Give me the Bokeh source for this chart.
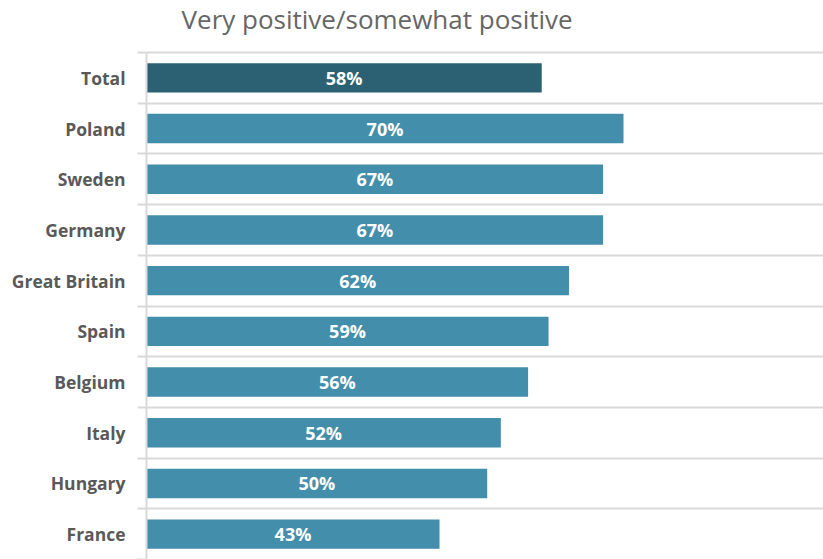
from bokeh.plotting import figure
from bokeh.models import Range1d, FixedTicker, ColumnDataSource, LabelSet, Label
from bokeh.core.properties import value
from bokeh.embed import file_html
from bokeh.resources import INLINE

categories = ["Total", "Poland", "Sweden", "Germany", "Great Britain",
              "Spain", "Belgium", "Italy", "Hungary", "France"]
values = [58, 70, 67, 67, 62, 59, 56, 52, 50, 43]
colors = ["#2B6172"] + ["#428EAB"] * 9
title_text = "Very positive/somewhat positive"

n = len(categories)
pos = [i + 0.5 for i in range(n)]
src = ColumnDataSource(dict(
    y=pos, v=values, half=[v / 2 for v in values],
    lab=[f"{v}%" for v in values], c=colors,
))

# frame spans the full height; the top strip (above category 0) holds the title
p = figure(width=823, height=559, output_backend="svg", toolbar_location=None,
           x_range=Range1d(0, 99.35), y_range=Range1d(n, -1.026),
           min_border_left=146, min_border_right=0, min_border_top=0,
           min_border_bottom=0)

p.hbar(y="y", right="v", left=0, height=0.58, fill_color="c",
       line_color=None, source=src)

labels = LabelSet(x="half", y="y", text="lab", source=src,
                  text_align="center", text_baseline="middle",
                  text_color="white", text_font=value("Open Sans"),
                  text_font_style="bold", text_font_size="18px")
p.add_layout(labels)

title = Label(x=5.14, y=-0.67, text=title_text, text_align="left",
              text_baseline="middle", text_font="Open Sans",
              text_font_size="26px", text_color="#666666")
p.add_layout(title)

p.xaxis.visible = False
p.xgrid.visible = False

ax = p.yaxis[0]
ax.bounds = (0, n)
ax.ticker = FixedTicker(ticks=pos, minor_ticks=list(range(n + 1)))
ax.major_label_overrides = {pv: c for pv, c in zip(pos, categories)}
ax.major_tick_line_color = None
ax.major_tick_out = 0
ax.major_tick_in = 0
ax.minor_tick_out = 9
ax.minor_tick_in = 0
ax.minor_tick_line_color = "#D9D9D9"
ax.minor_tick_line_width = 2
ax.axis_line_color = "#D9D9D9"
ax.axis_line_width = 2
ax.major_label_standoff = 12
ax.major_label_text_font = "Open Sans"
ax.major_label_text_font_style = "bold"
ax.major_label_text_font_size = "17.5px"
ax.major_label_text_color = "#595959"

p.ygrid.ticker = FixedTicker(ticks=list(range(n + 1)))
p.ygrid.grid_line_color = "#D9D9D9"
p.ygrid.grid_line_width = 2

p.outline_line_color = None

open("out.html", "w").write(file_html(p, INLINE))
